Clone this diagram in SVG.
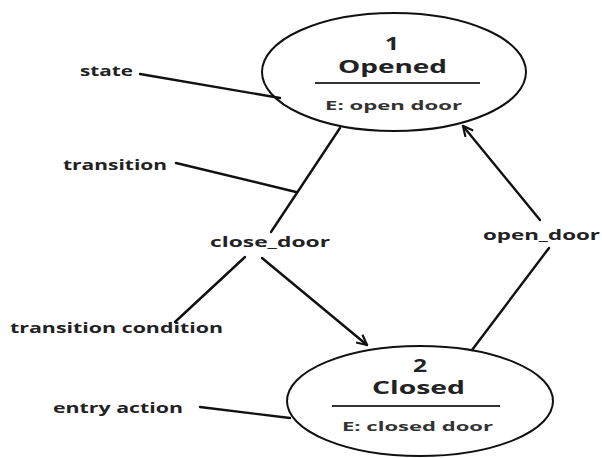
<svg xmlns="http://www.w3.org/2000/svg" width="602" height="458" viewBox="0 0 602 458">
<style>
  text { font-family: "Open Sans", "Liberation Sans", sans-serif; font-weight: 700; fill: #222; }
  .lbl { font-size: 14px; }
  .num { font-size: 18px; }
  .name { font-size: 17px; }
  .act { font-size: 12px; fill: #333; }
  .state { fill: #fff; stroke: #111; stroke-width: 2; }
  .sep { stroke: #333; stroke-width: 2.2; }
  .conn line { stroke: #111; stroke-width: 2.4; stroke-linecap: round; fill: none; }
</style>
<defs>
  <marker id="arr" viewBox="0 0 12 12" refX="11" refY="6" markerWidth="12" markerHeight="12" markerUnits="userSpaceOnUse" orient="auto">
    <path d="M1,1 L11,6 L1,11" fill="none" stroke="#111" stroke-width="2.2"/>
  </marker>
</defs>
<rect width="602" height="458" fill="#fff"/>
<g id="state-opened">
  <ellipse class="state" cx="394" cy="72" rx="132" ry="59"/>
  <text class="num" x="385" y="50" textLength="14" lengthAdjust="spacingAndGlyphs">1</text>
  <text class="name" x="338" y="73" textLength="109" lengthAdjust="spacingAndGlyphs">Opened</text>
  <line class="sep" x1="315" y1="83" x2="480" y2="83"/>
  <text class="act" x="325" y="110" textLength="137" lengthAdjust="spacingAndGlyphs">E: open door</text>
</g>
<g id="state-closed">
  <ellipse class="state" cx="420" cy="401" rx="133" ry="55"/>
  <text class="num" x="413" y="372" textLength="14" lengthAdjust="spacingAndGlyphs">2</text>
  <text class="name" x="372" y="394" textLength="93" lengthAdjust="spacingAndGlyphs">Closed</text>
  <line class="sep" x1="332" y1="406" x2="500" y2="406"/>
  <text class="act" x="342" y="431" textLength="151" lengthAdjust="spacingAndGlyphs">E: closed door</text>
</g>
<g id="labels">
  <text class="lbl" x="80" y="76" textLength="53" lengthAdjust="spacingAndGlyphs">state</text>
  <text class="lbl" x="63" y="170" textLength="104" lengthAdjust="spacingAndGlyphs">transition</text>
  <text class="lbl" x="210" y="247" textLength="120" lengthAdjust="spacingAndGlyphs">close_door</text>
  <text class="lbl" x="10" y="333" textLength="213" lengthAdjust="spacingAndGlyphs">transition condition</text>
  <text class="lbl" x="53" y="413" textLength="130" lengthAdjust="spacingAndGlyphs">entry action</text>
  <text class="lbl" x="483" y="240" textLength="117" lengthAdjust="spacingAndGlyphs">open_door</text>
</g>
<g id="connectors" class="conn">
  <line x1="340" y1="128" x2="271" y2="232"/>
  <line x1="262" y1="258" x2="367" y2="345" marker-end="url(#arr)"/>
  <line x1="472" y1="350" x2="549" y2="248"/>
  <line x1="540" y1="220" x2="463" y2="126" marker-end="url(#arr)"/>
  <line x1="140" y1="74" x2="280" y2="98"/>
  <line x1="176" y1="163" x2="296" y2="192"/>
  <line x1="245" y1="257" x2="175" y2="322"/>
  <line x1="200" y1="407" x2="290" y2="418"/>
</g>
</svg>
